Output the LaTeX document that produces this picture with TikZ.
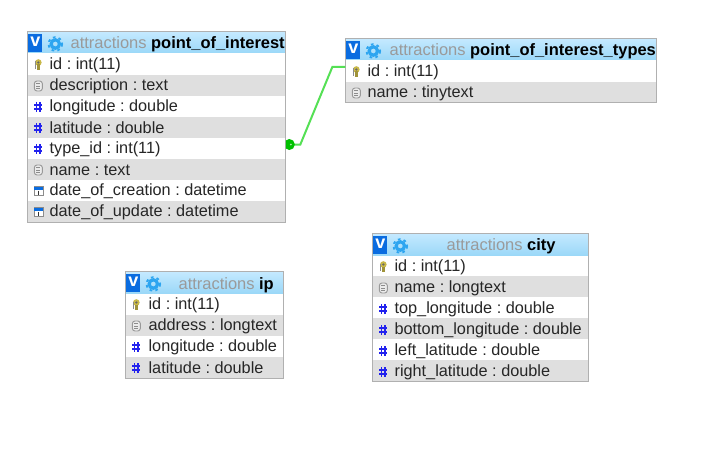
\documentclass[tikz,border=0pt]{standalone}
\usepackage{fontspec}
\setmainfont{Liberation Sans}
\frenchspacing
\definecolor{frameg}{HTML}{B0B0B0}
\definecolor{rowg}{HTML}{DFDFDF}
\definecolor{hdrtop}{HTML}{C4E9FF}
\definecolor{hdrbot}{HTML}{9BD8F8}
\definecolor{vblue}{HTML}{0A6CE0}
\definecolor{gearb}{HTML}{2DA5F0}
\definecolor{txtg}{HTML}{9A9A9A}
\definecolor{typeb}{HTML}{2222EE}
\definecolor{keyy}{HTML}{C8B848}
\definecolor{fkg}{HTML}{00C000}
\definecolor{lineg}{HTML}{55E055}
\tikzset{
  x=0.75pt,y=-0.75pt,
  field/.style={anchor=west,inner sep=0pt,font=\fontsize{12.2}{14}\selectfont,text=black!85},
  titletext/.style={inner sep=0pt,font=\fontsize{12.35}{14}\selectfont},
  frame/.style={draw=frameg,line width=0.75pt,fill=none,inner sep=0pt},
}
\newcommand{\rowband}[3]{\fill[rowg] (#1,#2) rectangle ++(#3,21);}
\newcommand{\iconkey}[2]{%
  \fill[keyy] (#1,#2-2.5) circle[radius=3.3];
  \fill[black!60] (#1,#2-2.5) circle[radius=1.2];
  \fill[keyy!80!black] (#1-1.8,#2-0.5) rectangle (#1+2,#2+5);
  \draw[black!45,line width=0.5pt] (#1-2.8,#2-3.5)--(#1-2.8,#2+4);
}
\newcommand{\icontext}[2]{%
  \draw[black!40,fill=black!8,line width=0.7pt,rounded corners=2pt] (#1-4,#2-5) rectangle (#1+4,#2+5);
  \draw[black!45,line width=0.5pt] (#1-2,#2-2.2)--(#1+2,#2-2.2) (#1-2,#2)--(#1+2,#2) (#1-2,#2+2.2)--(#1+2,#2+2.2);
}
\newcommand{\iconnum}[2]{%
  \draw[typeb,line width=1.2pt] (#1-1.8,#2-5)--(#1-1.8,#2+5) (#1+1.8,#2-5)--(#1+1.8,#2+5)
    (#1-4,#2-1.8)--(#1+4,#2-1.8) (#1-4,#2+1.8)--(#1+4,#2+1.8);
}
\newcommand{\icondate}[2]{%
  \fill[white] (#1-4.5,#2-4.5) rectangle (#1+4.5,#2+4.5);
  \draw[black!45,line width=0.5pt] (#1-4.5,#2-4.5) rectangle (#1+4.5,#2+4.5);
  \fill[vblue] (#1-4.5,#2-4.5) rectangle (#1+4.5,#2-1.5);
  \draw[black!80,line width=0.8pt] (#1,#2-0.5)--(#1,#2+3.5);
}
\newcommand{\header}[3]{%
  \shade[top color=hdrtop,bottom color=hdrbot] (#1,#2) rectangle (#3,#2+21);
  \fill[vblue] (#1+1,#2+2) rectangle (#1+15,#2+20);
  \node[inner sep=0pt,text=white,font=\fontsize{13.5}{14}\bfseries\selectfont] at (#1+8,#2+10) {v};
  \draw[gearb,line width=2.4pt] (#1+28,#2+12) circle[radius=4.2];
  \draw[gearb,line width=1.4pt,dash pattern=on 2pt off 2.4pt] (#1+28,#2+12) circle[radius=6.8];
}
\newcommand{\titlelabel}[4]{%
  \node[titletext,anchor=base west] (#1) at (#2,#3) {\textcolor{txtg}{attractions} \textbf{#4}};
}
\begin{document}
\begin{tikzpicture}
\useasboundingbox (0,0) rectangle (721,467);
\fill[white] (0,0) rectangle (721,467);
\begin{scope}[xshift=-0.5pt]

% point_of_interest
\header{28}{32}{286}
\rowband{29}{75}{257}\rowband{29}{117}{257}\rowband{29}{159}{257}\rowband{29}{201}{257}
\titlelabel{t1title}{71}{49}{point\_of\_interest}
\iconkey{39}{65}\node[field] (t1a) at (50,65.5) {id : int(11)};
\icontext{39}{86}\node[field] (t1b) at (50,86.5) {description : text};
\iconnum{39}{107}\node[field] (t1c) at (50,107.5) {longitude : double};
\iconnum{39}{128}\node[field] (t1d) at (50,128) {latitude : double};
\iconnum{39}{149}\node[field] (t1e) at (50,149.5) {type\_id : int(11)};
\icontext{39}{170}\node[field] (t1f) at (50,170.5) {name : text};
\icondate{39}{191}\node[field] (t1g) at (50,191.5) {date\_of\_creation : datetime};
\icondate{39}{212}\node[field] (t1h) at (50,212.5) {date\_of\_update : datetime};
\node[frame,minimum width=193.5pt,minimum height=143.25pt,anchor=north west] (t1) at (28,31) {};

% point_of_interest_types
\header{346}{39}{657}
\rowband{347}{82}{310}
\titlelabel{t2title}{390}{56}{point\_of\_interest\_types}
\iconkey{357}{72}\node[field] (t2a) at (368,72.5) {id : int(11)};
\icontext{357}{93}\node[field] (t2b) at (368,93.5) {name : tinytext};
\node[frame,minimum width=233.25pt,minimum height=48pt,anchor=north west] (t2) at (346,38) {};

% ip
\header{126}{272}{284}
\rowband{127}{315}{157}\rowband{127}{357}{157}
\titlelabel{t3title}{179}{289}{ip}
\iconkey{137}{305}\node[field] (t3a) at (149,305.5) {id : int(11)};
\icontext{137}{326}\node[field] (t3b) at (149,326.5) {address : longtext};
\iconnum{137}{347}\node[field] (t3c) at (149,347.5) {longitude : double};
\iconnum{137}{368}\node[field] (t3d) at (149,368) {latitude : double};
\node[frame,minimum width=118.5pt,minimum height=80.25pt,anchor=north west] (t3) at (126,271) {};

% city
\header{373}{234}{589}
\rowband{374}{276}{215}\rowband{374}{318}{215}\rowband{374}{360}{215}
\titlelabel{t4title}{447}{250}{city}
\iconkey{384}{267}\node[field] (t4a) at (395,267) {id : int(11)};
\icontext{384}{288}\node[field] (t4b) at (395,288) {name : longtext};
\iconnum{384}{309}\node[field] (t4c) at (395,309) {top\_longitude : double};
\iconnum{384}{330}\node[field] (t4d) at (395,330) {bottom\_longitude : double};
\iconnum{384}{351}\node[field] (t4e) at (395,351) {left\_latitude : double};
\iconnum{384}{372}\node[field] (t4f) at (395,372) {right\_latitude : double};
\node[frame,minimum width=162pt,minimum height=111pt,anchor=north west] (t4) at (373,233) {};

% relation
\coordinate (fkend) at (t1.east |- 0,144.5);
\coordinate (pkend) at (t2.west |- 0,67);
\draw[lineg,line width=1.5pt] (fkend) -- (301,144.5) -- (333,67) -- (pkend);
\begin{scope}
  \clip (286.5,130) rectangle (300,160);
  \fill[fkg] (290,144.5) circle[radius=5.5];
\end{scope}
\fill[white!65!fkg] (291.5,144.5) circle[radius=1];
\end{scope}
\end{tikzpicture}
\end{document}
